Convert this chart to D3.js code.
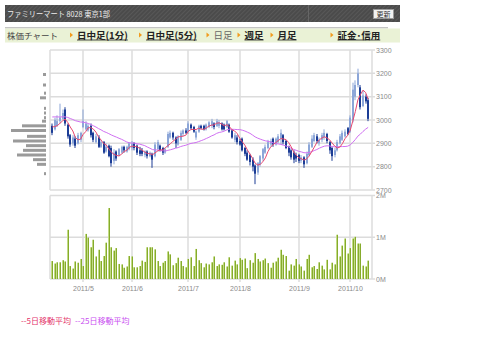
<!DOCTYPE html>
<html><head><meta charset="utf-8">
<script src="https://cdn.jsdelivr.net/npm/d3@7/dist/d3.min.js"></script>
<style>
body{margin:0;background:#fff}
svg{display:block}
text{font-family:"Noto Sans CJK JP","Noto Sans",sans-serif}
.ax text{font-family:"Liberation Sans",Arial,sans-serif;font-size:7px;fill:#8a8a8a}
</style>
</head><body>
<svg id="c" width="480" height="351"></svg>
<script>
// ---- data ----
const title = "ファミリーマート 8028 東京1部";
const navItems = ["日中足(1分)","日中足(5分)","日足","週足","月足","証金･信用"];
const navLinked = [true,true,false,true,true,true];
const legendLabels = ["--5日移動平均","--25日移動平均"];
const monthLabels = ["2011/5","2011/6","2011/7","2011/8","2011/9","2011/10"];
const monthIndex = [12,31,53,73,96,116];
const priceTicks = [2700,2800,2900,3000,3100,3200,3300];
const volTicks = [0,1,2];
const volTickLabels = ["0M","1M","2M"];
const priorCloses = [2990,3000,3020,3010,2985,2995,3010,3030,3020,3005,3015,3010,3040,3060,3050,3045,3065,3055,3040,3030,2990,2975,2960,2980];
const opens = [2975,2960,2975,2995,3005,3045,2980,2935,2900,2920,2900,2915,2970,2960,2955,2975,2945,2905,2925,2885,2905,2865,2890,2880,2825,2865,2850,2860,2885,2865,2875,2880,2900,2890,2870,2870,2850,2865,2845,2855,2845,2875,2890,2880,2860,2885,2925,2945,2925,2895,2915,2940,2955,2950,2980,2970,2925,2950,2975,2975,2960,2970,2975,2985,2975,2975,2985,2980,2970,2980,2955,2915,2925,2910,2920,2880,2860,2850,2830,2805,2775,2810,2835,2860,2880,2895,2920,2895,2905,2920,2935,2910,2885,2870,2860,2850,2850,2825,2840,2815,2850,2885,2910,2930,2900,2915,2925,2940,2905,2880,2850,2870,2900,2915,2930,2965,2950,3000,3100,3150,3140,3060,3100,3085];
const highs = [2985,3010,3020,3070,3045,3055,2985,2940,2935,2930,2945,2950,3045,2995,2985,2985,2950,2940,2935,2915,2910,2900,2895,2890,2875,2870,2880,2890,2890,2890,2905,2910,2905,2895,2885,2880,2870,2870,2865,2860,2905,2915,2895,2885,2880,2950,2955,2950,2930,2935,2955,2960,2965,2995,2985,2975,2955,2980,2980,2980,2985,2995,3005,2990,3005,3000,2990,2985,3000,2985,2960,2945,2935,2920,2925,2885,2870,2855,2840,2810,2820,2850,2880,2895,2915,2920,2925,2925,2940,2960,2940,2915,2890,2875,2870,2860,2855,2850,2845,2865,2905,2935,2945,2940,2925,2945,2960,2945,2910,2885,2880,2915,2940,2955,2960,2970,3020,3160,3170,3220,3150,3125,3110,3095];
const lows = [2935,2955,2970,2985,3000,2975,2920,2885,2890,2880,2895,2905,2965,2955,2950,2925,2905,2900,2880,2880,2855,2860,2840,2800,2810,2825,2845,2855,2860,2860,2870,2870,2870,2850,2845,2845,2840,2835,2840,2795,2840,2865,2865,2850,2855,2880,2920,2915,2880,2890,2910,2930,2940,2940,2960,2945,2915,2945,2960,2955,2955,2965,2965,2960,2970,2965,2955,2955,2965,2945,2920,2905,2895,2890,2865,2845,2825,2805,2780,2725,2765,2800,2825,2855,2875,2885,2885,2890,2900,2895,2895,2875,2845,2830,2815,2820,2815,2815,2795,2810,2845,2880,2905,2900,2890,2905,2915,2900,2855,2825,2840,2865,2895,2910,2925,2935,2945,2990,3085,3140,3045,3055,3070,2995];
const closes = [2945,3000,2995,3010,3030,2985,2930,2895,2925,2890,2935,2945,2995,2985,2975,2935,2915,2930,2885,2905,2860,2885,2845,2815,2860,2835,2875,2885,2870,2885,2900,2900,2880,2860,2855,2855,2865,2845,2860,2830,2895,2905,2870,2860,2875,2940,2945,2925,2900,2930,2945,2955,2945,2985,2965,2950,2950,2975,2965,2960,2980,2990,2995,2970,2995,2990,2960,2960,2995,2950,2925,2935,2905,2895,2870,2855,2830,2820,2800,2770,2815,2845,2875,2885,2905,2910,2895,2920,2930,2945,2905,2880,2860,2840,2830,2835,2825,2840,2810,2855,2895,2920,2935,2910,2915,2935,2945,2910,2870,2845,2870,2905,2930,2945,2950,2940,3010,3130,3150,3200,3055,3105,3080,3005];
const volumes = [0.43,0.37,0.40,0.40,0.45,0.42,1.18,0.31,0.25,0.42,
 0.39,0.48,0.31,1.08,0.99,0.76,0.94,0.54,0.70,0.43,
 0.55,0.87,1.70,0.76,0.68,0.74,0.36,0.35,0.27,0.30,
 0.55,0.54,0.28,0.28,0.31,0.44,0.41,0.76,0.76,0.76,
 0.71,0.43,
 0.31,0.39,0.43,0.66,0.59,0.33,0.38,0.51,0.43,0.31,0.28,
 0.48,0.52,0.31,0.72,0.45,0.38,0.28,0.37,0.35,0.40,
 0.54,0.31,0.35,0.34,0.40,0.30,0.52,0.32,0.44,0.35,
 0.50,0.46,0.49,0.26,0.45,0.39,0.62,0.48,0.42,0.45,
 0.49,0.38,0.27,0.39,0.42,0.51,0.70,0.58,0.55,0.20,
 0.35,0.32,0.48,0.35,0.30,0.20,0.48,0.58,0.28,0.31,
 0.24,0.40,
 0.32,0.23,0.46,0.23,0.39,0.35,1.06,0.54,0.80,0.97,0.61,0.74,0.97,1.01,0.85,0.85,0.32,0.30,0.44];
const profilePrices = [3195,3150,3115,3095,3050,3030,3010,2995,2975,2955,2930,2910,2890,2870,2850,2830,2810,2770];
const profileVolumes = [3,3,2,6,2,2,2,4,24,35,19,33,20,23,29,13,9,2];

// ---- layout ----
const svg = d3.select("#c");
const L = 50, R = 372, PT = 50, PB = 190, VT = 195.5, VB = 279;
const x = d3.scaleLinear().domain([-0.5, 124.5]).range([51, 372]);
const y = d3.scaleLinear().domain([2700, 3300]).range([PB, PT]);
const yv = d3.scaleLinear().domain([0, 2]).range([VB, VT]);
const xp = d3.scaleLinear().domain([0, d3.max(profileVolumes)]).range([0, 35]);

// header
const defs = svg.append("defs");
const pat = defs.append("pattern").attr("id","hatch").attr("width",3).attr("height",3)
  .attr("patternUnits","userSpaceOnUse").attr("patternTransform","rotate(45)");
pat.append("rect").attr("width",3).attr("height",3).attr("fill","#4b4b4b");
pat.append("rect").attr("width",1).attr("height",3).attr("fill","#585858");
svg.append("rect").attr("x",5).attr("y",5).attr("width",395).attr("height",17).attr("fill","url(#hatch)");
svg.append("rect").attr("x",308).attr("y",5).attr("width",1).attr("height",17).attr("fill","#666");
svg.append("text").attr("x",7).attr("y",16.5).attr("font-size",8).attr("fill","#eeeeee")
  .attr("textLength",103).attr("lengthAdjust","spacingAndGlyphs").text(title);
svg.append("rect").attr("x",373.5).attr("y",9.5).attr("width",20).attr("height",9).attr("fill","#f2f2f2").attr("stroke","#9a9a9a");
svg.append("text").attr("x",383.5).attr("y",17).attr("text-anchor","middle").attr("font-size",7).attr("fill","#333").text("更新");

// nav
svg.append("rect").attr("x",5).attr("y",27).attr("width",383).attr("height",1.5).attr("fill","#c4c4c4");
svg.append("rect").attr("x",5).attr("y",28.5).attr("width",395).attr("height",14).attr("fill","#eaf2d6");
svg.append("text").attr("x",7).attr("y",38.5).attr("font-size",8.5).attr("fill","#444").text("株価チャート");
const triX = [71.5,140.5,208,239,272,332];
navItems.forEach((t,i)=>{
  const tx = triX[i];
  svg.append("path").attr("d",`M${tx-1.5},32.5L${tx+1.5},35L${tx-1.5},37.5Z`).attr("fill","#f29b1d");
  const el = svg.append("text").attr("x",tx+5.5).attr("y",38.8).attr("font-size",9.5)
    .attr("font-weight",navLinked[i]?"bold":"normal").attr("fill",navLinked[i]?"#222":"#666").text(t);
  if(navLinked[i]){
    const w = el.node().getComputedTextLength();
    svg.append("rect").attr("x",tx+5.5).attr("y",39.6).attr("width",w).attr("height",0.8).attr("fill","#222");
  }
});

// grid
const gridC = "#dcdcdc";
const g = svg.append("g");
priceTicks.forEach(p=>{
  g.append("line").attr("x1",L).attr("x2",R+3).attr("y1",y(p)).attr("y2",y(p)).attr("stroke",gridC).attr("stroke-width",1.5);
});
volTicks.forEach(v=>{
  g.append("line").attr("x1",L).attr("x2",R+3).attr("y1",yv(v)).attr("y2",yv(v)).attr("stroke",gridC).attr("stroke-width",1.5);
});
[L,R].forEach(xx=>{
  g.append("line").attr("x1",xx).attr("x2",xx).attr("y1",PT).attr("y2",PB).attr("stroke",gridC).attr("stroke-width",1.5);
  g.append("line").attr("x1",xx).attr("x2",xx).attr("y1",VT).attr("y2",VB).attr("stroke",gridC).attr("stroke-width",1.5);
});
monthIndex.forEach(mi=>{
  const xx = Math.round(x(mi));
  g.append("line").attr("x1",xx).attr("x2",xx).attr("y1",PT).attr("y2",PB).attr("stroke",gridC).attr("stroke-width",1.5);
  g.append("line").attr("x1",xx).attr("x2",xx).attr("y1",VT).attr("y2",VB+3).attr("stroke",gridC).attr("stroke-width",1.5);
});

// axes (labels)
const ap = svg.append("g").attr("class","ax").attr("transform",`translate(${R},0)`)
  .call(d3.axisRight(y).tickValues(priceTicks).tickSize(0).tickPadding(4).tickFormat(d3.format("d")));
ap.select(".domain").remove();
const av = svg.append("g").attr("class","ax").attr("transform",`translate(${R},0)`)
  .call(d3.axisRight(yv).tickValues(volTicks).tickSize(0).tickPadding(4).tickFormat((d,i)=>volTickLabels[i]));
av.select(".domain").remove();
const xAxisScale = d3.scaleOrdinal().domain(monthLabels).range(monthIndex.map(i=>Math.round(x(i))));
const ax = svg.append("g").attr("class","ax").attr("transform",`translate(0,${VB+4})`)
  .call(d3.axisBottom(xAxisScale).tickSize(0).tickPadding(3));
ax.select(".domain").remove();

// volume profile
svg.append("g").selectAll("rect").data(profilePrices).join("rect")
  .attr("x",(d,i)=>46 - xp(profileVolumes[i])).attr("y",d=>y(d)-1.5)
  .attr("width",(d,i)=>xp(profileVolumes[i])).attr("height",3).attr("fill","#9a9a9a");

// volume bars
const vb = svg.append("g");
volumes.forEach((v,i)=>{
  const bx = Math.round(x(i)) - 1;
  vb.append("rect").attr("x",bx).attr("y",yv(v)).attr("width",1).attr("height",VB-yv(v)).attr("fill","#c2db84");
  vb.append("rect").attr("x",bx+1).attr("y",yv(v)).attr("width",1).attr("height",VB-yv(v)).attr("fill","#86ab2c");
});

// candles
const upC = "#8ca6d8", dnC = "#1c3d96";
const cg = svg.append("g");
closes.forEach((c,i)=>{
  const o = opens[i], col = c >= o ? upC : dnC;
  const bx = Math.round(x(i)) - 1;
  cg.append("rect").attr("x",bx+0.5).attr("width",1).attr("y",y(highs[i])).attr("height",y(lows[i])-y(highs[i])).attr("fill",col);
  const top = y(Math.max(o,c)), bot = y(Math.min(o,c));
  cg.append("rect").attr("x",bx).attr("width",2).attr("y",top).attr("height",Math.max(1,bot-top)).attr("fill",col);
});

// moving averages
const all = priorCloses.concat(closes);
const off = priorCloses.length;
const ma = n => closes.map((c,i)=>d3.mean(all.slice(off+i-n+1, off+i+1)));
const line = d3.line().x((d,i)=>x(i)).y(d=>y(d));
svg.append("path").attr("d",line(ma(25))).attr("fill","none").attr("stroke","#d070f2").attr("stroke-width",1);
svg.append("path").attr("d",line(ma(5))).attr("fill","none").attr("stroke","#e8476f").attr("stroke-width",1);

// legend
svg.append("text").attr("x",21).attr("y",323.5).attr("font-size",8).attr("fill","#e3336a").text(legendLabels[0]);
svg.append("text").attr("x",75).attr("y",323.5).attr("font-size",8).attr("fill","#c94ef0").text(legendLabels[1]);
</script>
</body></html>
